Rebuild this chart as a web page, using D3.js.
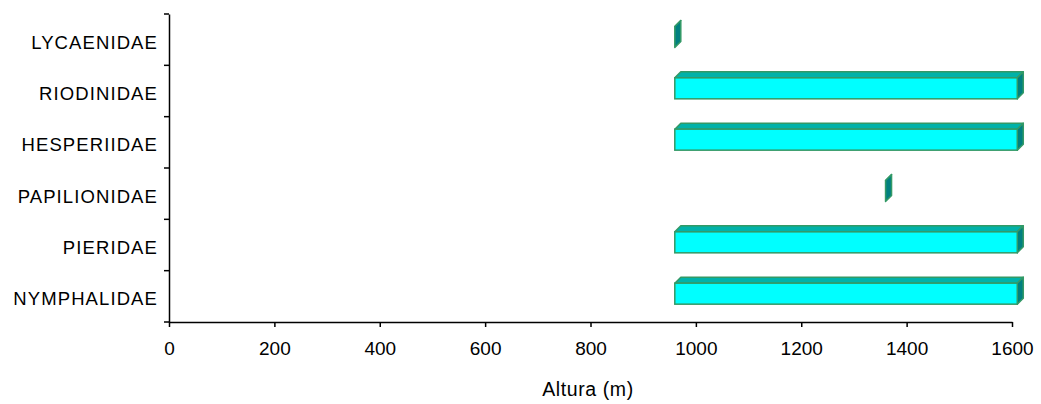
<!DOCTYPE html>
<html>
<head>
<meta charset="utf-8">
<script src="https://cdn.jsdelivr.net/npm/d3@7"></script>
<style>
  body { margin: 0; background: #fff; }
  #chart text { font-family: "Liberation Sans", Arial, sans-serif; fill: #000; }
</style>
</head>
<body>
<div id="chart"></div>
<script>
// families, top to bottom
const families = ["LYCAENIDAE", "RIODINIDAE", "HESPERIIDAE", "PAPILIONIDAE", "PIERIDAE", "NYMPHALIDAE"];
// altitude range (m) for each family
const altMin = [960, 960, 960, 1360, 960, 960];
const altMax = [960, 1610, 1610, 1360, 1610, 1610];
const xTicks = [0, 200, 400, 600, 800, 1000, 1200, 1400, 1600];

const data = families.map((f, i) => ({ family: f, lo: altMin[i], hi: altMax[i] }));

const width = 1041;
const height = 404;
const margin = { top: 14, right: 29, bottom: 82, left: 169 };
const depth = 6;
const barH = 21;

const xScale = d3.scaleLinear().domain([0, 1600]).range([margin.left, width - margin.right]);
const yScale = d3.scaleBand().domain(families).range([margin.top, height - margin.bottom]);

const svg = d3
  .select("#chart")
  .append("svg")
  .attr("width", width)
  .attr("height", height);

// bars (3d look like the old excel chart)
const bars = svg.append("g").selectAll("g").data(data).join("g");

function pts(arr) {
  return arr.map((p) => p.join(",")).join(" ");
}

bars.each(function (d) {
  const g = d3.select(this);
  const x0 = xScale(d.lo);
  const x1 = xScale(d.hi);
  const yt = yScale(d.family) + 12.5;
  const yb = yt + barH;
  // top face
  g.append("polygon")
    .attr("points", pts([[x0, yt], [x1, yt], [x1 + depth, yt - depth], [x0 + depth, yt - depth]]))
    .attr("fill", "#00b2a9")
    .attr("stroke", "#339966")
    .attr("stroke-width", 1.5)
    .attr("stroke-linejoin", "round");
  // side face
  g.append("polygon")
    .attr("points", pts([[x1, yt], [x1 + depth, yt - depth], [x1 + depth, yb - depth], [x1, yb]]))
    .attr("fill", "#008080")
    .attr("stroke", "#339966")
    .attr("stroke-width", 1.5)
    .attr("stroke-linejoin", "round");
  // front face
  if (x1 > x0) {
    g.append("rect")
      .attr("x", x0)
      .attr("y", yt)
      .attr("width", x1 - x0)
      .attr("height", barH)
      .attr("fill", "#00ffff")
      .attr("stroke", "#339966")
      .attr("stroke-width", 1.5);
  }
});

// y axis
const yAxis = svg
  .append("g")
  .attr("transform", `translate(${margin.left},0)`)
  .call(d3.axisLeft(yScale).tickSize(0).tickPadding(11));
yAxis.select(".domain").attr("stroke", "#000").attr("stroke-width", 1.5);
yAxis
  .selectAll("text")
  .attr("font-size", 18.5)
  .attr("letter-spacing", "1.1px")
  .attr("dy", null)
  .attr("y", 9);

// tick marks between categories
const bounds = d3.range(families.length + 1).map((i) => margin.top + i * yScale.step());
svg
  .append("g")
  .selectAll("line")
  .data(bounds)
  .join("line")
  .attr("x1", margin.left - 5)
  .attr("x2", margin.left)
  .attr("y1", (d) => d)
  .attr("y2", (d) => d)
  .attr("stroke", "#000")
  .attr("stroke-width", 1.5);

// x axis
const xAxis = svg
  .append("g")
  .attr("transform", `translate(0,${height - margin.bottom})`)
  .call(
    d3.axisBottom(xScale)
      .tickValues(xTicks)
      .tickFormat(d3.format("d"))
      .tickSize(5)
      .tickSizeOuter(0)
      .tickPadding(15)
  );
xAxis.select(".domain").attr("stroke", "#000").attr("stroke-width", 1.5);
xAxis.selectAll(".tick line").attr("stroke", "#000").attr("stroke-width", 1.5);
xAxis.selectAll("text").attr("font-size", 19);

svg
  .append("text")
  .attr("x", 588)
  .attr("y", 396)
  .attr("text-anchor", "middle")
  .attr("font-size", 19.5)
  .attr("letter-spacing", "0.6px")
  .text("Altura (m)");
</script>
</body>
</html>
